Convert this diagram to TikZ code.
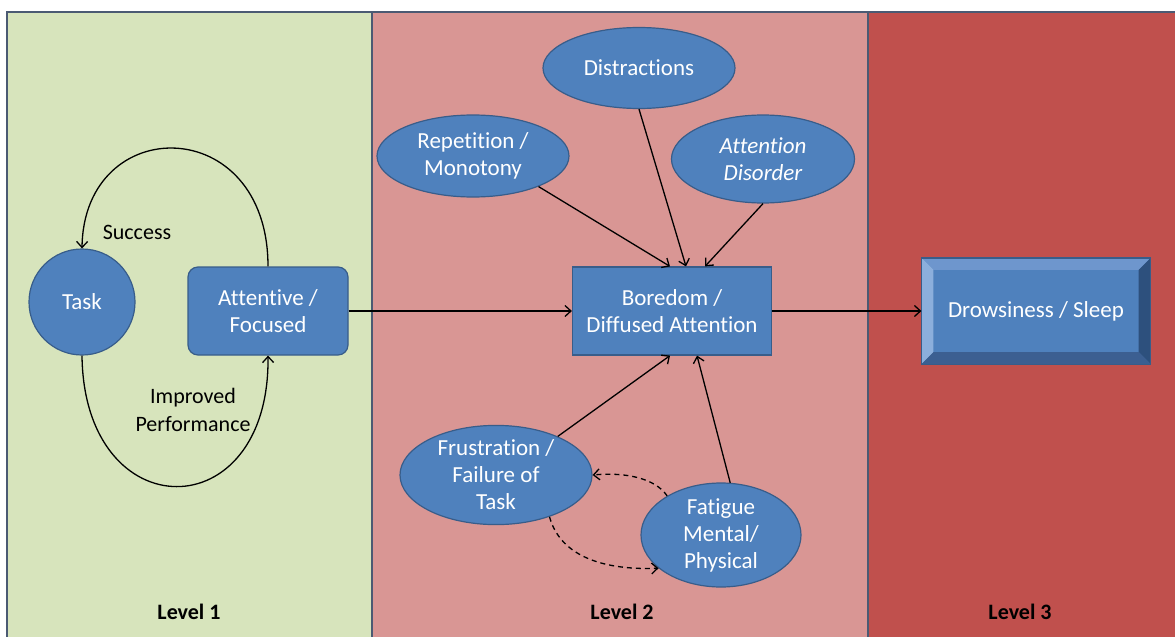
\documentclass[tikz,border=0pt]{standalone}
\usepackage{fontspec}
\setmainfont{Carlito}[Ligatures=NoCommon]
\usetikzlibrary{arrows.meta,shapes.geometric,calc}
\definecolor{levelone}{RGB}{215,228,188}
\definecolor{leveltwo}{RGB}{217,150,148}
\definecolor{levelthree}{RGB}{192,80,77}
\definecolor{panelline}{RGB}{75,90,115}
\definecolor{nodeblue}{RGB}{79,129,189}
\definecolor{nodeedge}{RGB}{56,93,138}
\definecolor{bevelleft}{RGB}{140,175,220}
\definecolor{beveltop}{RGB}{110,150,205}
\definecolor{bevelright}{RGB}{45,80,125}
\definecolor{bevelbottom}{RGB}{60,95,145}

\begin{document}
\begin{tikzpicture}[x=1pt,y=-1pt,
  panel/.style={draw=panelline,line width=2pt},
  nodetext/.style={text=white,font=\fontsize{23}{27}\selectfont,align=center,inner sep=0pt},
  blob/.style={ellipse,draw=nodeedge,line width=1.2pt,fill=nodeblue,nodetext},
  boxnode/.style={rectangle,draw=nodeedge,line width=1.2pt,fill=nodeblue,nodetext},
  caption/.style={font=\fontsize{22}{28}\selectfont,align=center,inner sep=0pt},
  levelname/.style={font=\fontsize{22}{26}\selectfont\bfseries,inner sep=0pt},
  link/.style={line width=1.3pt,-{Straight Barb[length=6pt,width=11pt]}},
  loose/.style={line width=1.3pt,dashed,dash pattern=on 5pt off 4pt,-{Straight Barb[length=6pt,width=11pt]}}
]
\useasboundingbox (0,0) rectangle (1175,637);
% the three levels
\fill[levelone] (7,12) rectangle (372,645);
\fill[leveltwo] (372,12) rectangle (868,645);
\fill[levelthree] (868,12) rectangle (1185,645);
\draw[panel] (7,645) -- (7,12) -- (1185,12);
\draw[panel] (372,12) -- (372,645);
\draw[panel] (868,12) -- (868,645);
\node[levelname] (lvl1) at (189,612) {Level 1};
\node[levelname] (lvl2) at (622,612) {Level 2};
\node[levelname] (lvl3) at (1020,612) {Level 3};
% Level 1: task loop
\node[boxnode,circle,minimum size=106pt] (task) at (82,302) {Task};
\node[boxnode,rounded corners=10pt,minimum width=160pt,minimum height=88pt] (attentive) at (268,311) {Attentive /\\Focused};
\draw[link] (attentive.north) .. controls (268,112) and (84,112) .. (task.north);
\draw[link] (task.south) .. controls (84,530) and (270,530) .. (attentive.south);
\node[caption] (success) at (137,232) {Success};
\node[caption] (improved) at (193,410) {Improved\\Performance};
% Level 2: boredom and its causes
\node[boxnode,minimum width=199pt,minimum height=88pt] (boredom) at (672,311) {Boredom /\\Diffused Attention};
\node[blob,minimum width=192pt,minimum height=81pt] (distract) at (639,68) {Distractions};
\node[blob,minimum width=192pt,minimum height=82pt] (repeat) at (473,156) {Repetition /\\Monotony};
\node[blob,minimum width=183pt,minimum height=88pt] (disorder) at (763,159) {\itshape Attention\\\itshape Disorder};
\node[blob,minimum width=192pt,minimum height=95pt] (frustrate) at (496,475) {Frustration /\\Failure of\\Task};
\node[blob,minimum width=160pt,minimum height=90pt] (fatigue) at (721,535) {Fatigue\\Mental/\\Physical};
\draw[link] (repeat.-25) -- ($(boredom.north)+(-2,0)$);
\draw[link] (distract.south) -- ($(boredom.north)+(14,0)$);
\draw[link] (disorder.south) -- ($(boredom.north)+(33,0)$);
\draw[link] (frustrate.32) -- ($(boredom.south)+(-2,0)$);
\draw[link] (fatigue.80) -- ($(boredom.south)+(25,0)$);
\draw[loose] (fatigue.144) .. controls (655,478) and (625,472) .. (frustrate.east);
\draw[loose] (frustrate.-38) .. controls (562,562) and (615,570) .. (fatigue.208);
% Level 3: drowsiness
\draw[link] (attentive.east) -- (boredom.west);
\node[boxnode,minimum width=228pt,minimum height=105pt] (drowsy) at (1036,311) {};
\fill[beveltop] (drowsy.north west) -- (drowsy.north east) -- ($(drowsy.north east)+(-12,12)$) -- ($(drowsy.north west)+(12,12)$) -- cycle;
\fill[bevelleft] (drowsy.north west) -- (drowsy.south west) -- ($(drowsy.south west)+(12,-12)$) -- ($(drowsy.north west)+(12,12)$) -- cycle;
\fill[bevelright] (drowsy.north east) -- (drowsy.south east) -- ($(drowsy.south east)+(-12,-12)$) -- ($(drowsy.north east)+(-12,12)$) -- cycle;
\fill[bevelbottom] (drowsy.south west) -- (drowsy.south east) -- ($(drowsy.south east)+(-12,-12)$) -- ($(drowsy.south west)+(12,-12)$) -- cycle;
\draw[nodeedge,line width=1.2pt] (drowsy.north west) rectangle (drowsy.south east);
\node[nodetext] (drowsytext) at (drowsy.center) {Drowsiness / Sleep};
\draw[link] (boredom.east) -- (drowsy.west);
\end{tikzpicture}
\end{document}
